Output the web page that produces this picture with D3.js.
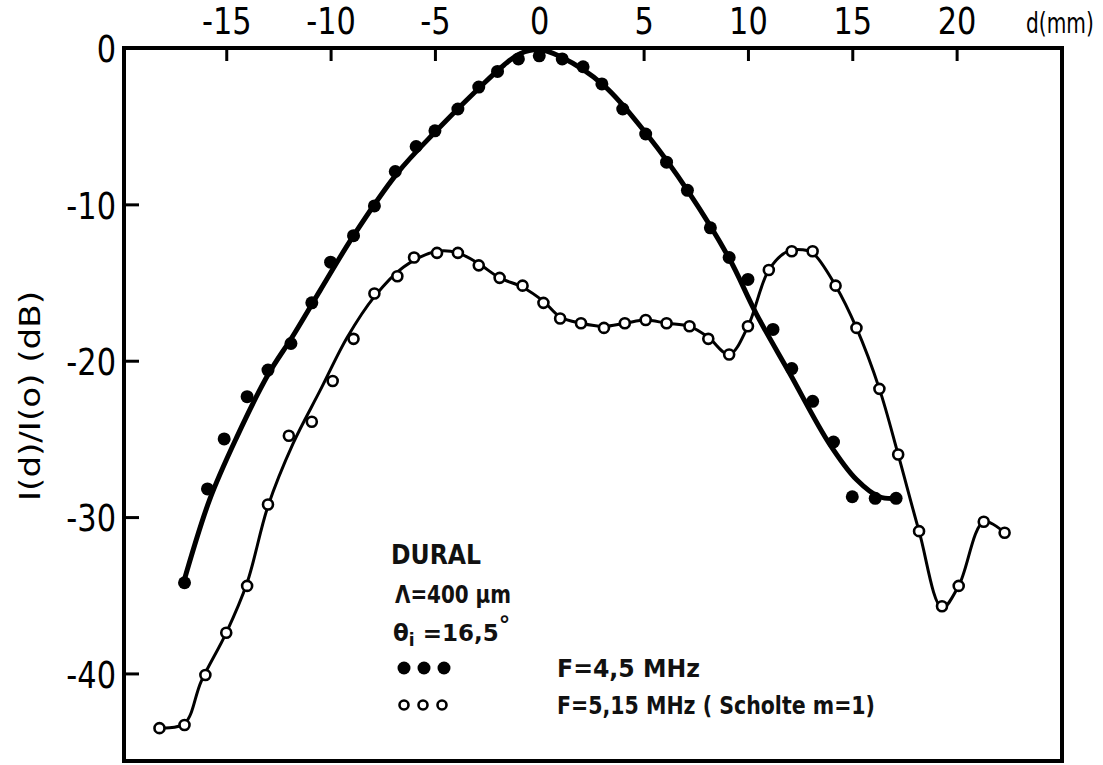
<!DOCTYPE html>
<meta charset="utf-8">
<style>
  body { margin: 0; background: #fff; }
  svg { display: block; }
  .tick text { font-family: "DejaVu Sans", sans-serif; font-size: 38px; fill: #000; }
  .note { font-family: "DejaVu Sans", sans-serif; font-weight: bold; font-size: 25px; fill: #111; }
</style>
<svg width="1103" height="765"></svg>
<script src="https://cdn.jsdelivr.net/npm/d3@7"></script>
<script>
// measured points, F = 4,5 MHz (filled dots)
var dFull = [-17, -15.9, -15.1, -14, -13, -11.9, -10.9, -10, -8.9, -7.9, -6.9, -5.9, -5, -3.9, -2.9, -2, -1, 0, 1.1, 2.1, 3, 4, 5.1, 6.1, 7.1, 8.2, 9.1, 10, 11.2, 12.1, 13.1, 14.1, 15, 16.1, 17.1];
var vFull = [-34.2, -28.2, -25, -22.3, -20.6, -18.9, -16.3, -13.7, -12, -10.1, -7.9, -6.3, -5.3, -3.9, -2.5, -1.5, -0.7, -0.5, -0.7, -1.2, -2.3, -3.9, -5.5, -7.3, -9.1, -11.5, -13.4, -14.8, -18, -20.5, -22.6, -25.2, -28.7, -28.8, -28.8];
// hand drawn curve through them
var dFullFit = [-17.05, -15.8, -14.5, -13, -11.8, -10.5, -8.9, -6.8, -4.9, -2.8, -1.7, -0.9, 0, 1, 3.1, 5.2, 7.15, 9.1, 10.4, 12, 13.9, 15.2, 16.3, 17.1];
var vFullFit = [-34.2, -28.9, -24.9, -20.9, -18.4, -15.5, -12.0, -8.0, -5.25, -2.45, -1.1, -0.35, -0.1, -0.55, -2.4, -5.6, -9.2, -13.45, -17.0, -20.8, -25.3, -27.6, -28.7, -28.8];

// measured points, F = 5,15 MHz (open circles)
var dOpen = [-18.2, -17, -16, -15, -14, -13, -12, -10.9, -9.9, -8.9, -7.9, -6.8, -6, -4.9, -3.9, -2.9, -1.9, -0.8, 0.2, 1, 2, 3.1, 4.1, 5.1, 6.1, 7.2, 8.1, 9.1, 10, 11, 12.1, 13.1, 14.2, 15.2, 16.3, 17.2, 18.2, 19.3, 20.1, 21.3, 22.3];
var vOpen = [-43.5, -43.3, -40.1, -37.4, -34.4, -29.2, -24.8, -23.9, -21.3, -18.6, -15.7, -14.6, -13.4, -13.1, -13.1, -13.9, -14.7, -15.2, -16.3, -17.3, -17.6, -17.9, -17.6, -17.4, -17.6, -17.8, -18.6, -19.6, -17.8, -14.2, -13, -13, -15.2, -17.9, -21.8, -26, -30.9, -35.7, -34.4, -30.3, -31];
var dOpenFit = [-18.2, -17, -16.2, -15, -14, -13, -11.8, -10.5, -9.2, -7.9, -6.5, -4.9, -3.9, -2.9, -1.9, -0.8, 0.2, 1, 2, 3.1, 4.1, 5.1, 6.1, 7.2, 8.1, 9.1, 10, 11, 11.9, 12.6, 13.1, 14.2, 15.2, 16.3, 17.2, 18.2, 19.3, 20.1, 21.3, 22.3];
var vOpenFit = [-43.5, -43.2, -40.5, -37.4, -34.2, -29.3, -25.3, -21.9, -18.5, -15.9, -14.0, -13.0, -13.1, -13.8, -14.7, -15.3, -16.2, -17.2, -17.6, -17.8, -17.6, -17.4, -17.6, -17.8, -18.5, -19.6, -17.8, -14.2, -13.0, -12.9, -13.1, -15.2, -17.9, -21.8, -26, -30.9, -35.8, -34.4, -30.3, -31];

var xTicks = [-15, -10, -5, 0, 5, 10, 15, 20];
var yTicks = [0, -10, -20, -30, -40];

var svg = d3.select("svg");

var x = d3.scaleLinear().domain([-19.9, 25.05]).range([124, 1062]);
var y = d3.scaleLinear().domain([0, -45.6]).range([48, 761]);

function pairs(a, b) { return a.map(function(d, i) { return [d, b[i]]; }); }
function fmt(d) { return d < 0 ? "-" + (-d) : d; }

// frame
svg.append("rect")
    .attr("x", x.range()[0]).attr("y", y.range()[0])
    .attr("width", x.range()[1] - x.range()[0])
    .attr("height", y.range()[1] - y.range()[0])
    .attr("fill", "none").attr("stroke", "#000").attr("stroke-width", 4);

// top axis, ticks pointing down into the plot
var gx = svg.append("g")
    .attr("transform", "translate(0," + y(0) + ")")
    .call(d3.axisBottom(x).tickValues(xTicks).tickSize(13).tickFormat(fmt));
gx.select(".domain").remove();
gx.selectAll(".tick line").attr("stroke-width", 3);
gx.selectAll(".tick text").attr("y", -14).attr("dy", 0).attr("transform", "scale(0.8,1)");

svg.append("text").attr("transform", "translate(1026,33) scale(0.72,1)")
    .style("font-family", "DejaVu Sans, sans-serif").style("font-size", "28px")
    .text("d(mm)");

// left axis, ticks pointing right
var gy = svg.append("g")
    .attr("transform", "translate(" + x.range()[0] + ",0)")
    .call(d3.axisRight(y).tickValues(yTicks).tickSize(15).tickFormat(fmt));
gy.select(".domain").remove();
gy.selectAll(".tick line").attr("stroke-width", 3);
gy.selectAll(".tick text").attr("x", -10).attr("text-anchor", "end").attr("dy", "0.36em").attr("transform", "scale(0.8,1)");
gy.selectAll(".tick").filter(function(d) { return d === 0; }).select("line").remove();

svg.append("text")
    .attr("transform", "translate(40,396) rotate(-90)")
    .attr("text-anchor", "middle")
    .attr("textLength", 210).attr("lengthAdjust", "spacingAndGlyphs")
    .style("font-family", "DejaVu Sans, sans-serif").style("font-size", "29px")
    .text("I(d)/I(o)  (dB)");

var line = d3.line()
    .x(function(d) { return x(d[0]); })
    .y(function(d) { return y(d[1]); })
    .curve(d3.curveCatmullRom.alpha(0.5));

svg.append("path").datum(pairs(dFullFit, vFullFit))
    .attr("d", line).attr("fill", "none").attr("stroke", "#000").attr("stroke-width", 5);
svg.append("path").datum(pairs(dOpenFit, vOpenFit))
    .attr("d", line).attr("fill", "none").attr("stroke", "#000").attr("stroke-width", 3);

svg.selectAll(".full").data(pairs(dFull, vFull)).enter().append("circle")
    .attr("class", "full")
    .attr("cx", function(d) { return x(d[0]); })
    .attr("cy", function(d) { return y(d[1]); })
    .attr("r", 6.5).attr("fill", "#000");

svg.selectAll(".open").data(pairs(dOpen, vOpen)).enter().append("circle")
    .attr("class", "open")
    .attr("cx", function(d) { return x(d[0]); })
    .attr("cy", function(d) { return y(d[1]); })
    .attr("r", 5).attr("fill", "#fff").attr("stroke", "#000").attr("stroke-width", 2.6);

// notes
svg.append("text").attr("class", "note").attr("x", 391).attr("y", 564)
    .attr("textLength", 90).attr("lengthAdjust", "spacingAndGlyphs").style("font-size", "27px").text("DURAL");
svg.append("text").attr("class", "note").attr("x", 395).attr("y", 603)
    .attr("textLength", 116).attr("lengthAdjust", "spacingAndGlyphs").text("\u039b=400 \u00b5m");
var th = svg.append("text").attr("class", "note").attr("x", 393).attr("y", 641).style("font-size", "23px");
th.append("tspan").text("\u03b8");
th.append("tspan").attr("dy", 5).style("font-size", "17px").text("i");
th.append("tspan").attr("dy", -5).text(" =16,5");
th.append("tspan").attr("dy", -8).text("\u00b0");

[0, 1, 2].forEach(function(i) {
  svg.append("circle").attr("cx", 404 + i * 20).attr("cy", 668).attr("r", 6.5).attr("fill", "#000");
  svg.append("circle").attr("cx", 404 + i * 19).attr("cy", 705).attr("r", 4.5)
      .attr("fill", "#fff").attr("stroke", "#000").attr("stroke-width", 2.6);
});
svg.append("text").attr("class", "note").attr("x", 557).attr("y", 677)
    .attr("textLength", 143).attr("lengthAdjust", "spacingAndGlyphs").text("F=4,5 MHz");
svg.append("text").attr("class", "note").attr("x", 557).attr("y", 714)
    .attr("textLength", 318).attr("lengthAdjust", "spacingAndGlyphs").text("F=5,15 MHz ( Scholte m=1)");
</script>
